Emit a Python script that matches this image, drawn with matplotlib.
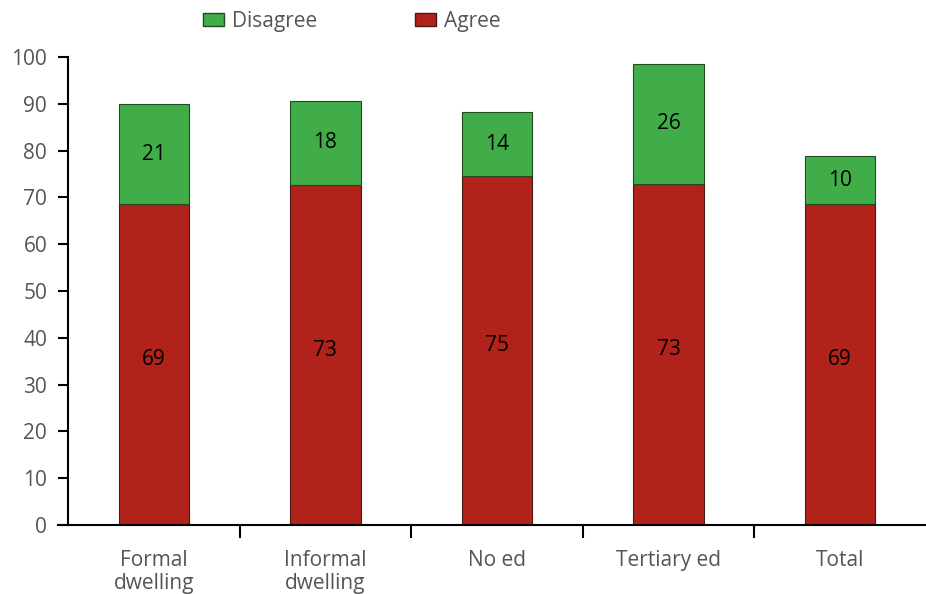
import matplotlib
matplotlib.use('Agg')
import matplotlib.pyplot as plt
from matplotlib.patches import Patch

categories = ['Formal\ndwelling', 'Informal\ndwelling', 'No ed', 'Tertiary ed', 'Total']
agree = [68.6, 72.6, 74.6, 72.9, 68.6]
disagree = [21.3, 18.1, 13.6, 25.6, 10.2]

green = '#41ad49'
red = '#b0221a'
grey = '#555555'

plt.rcParams['font.family'] = ['Open Sans', 'DejaVu Sans']

fig = plt.figure(figsize=(9.26, 5.94), dpi=100)
ax = fig.add_axes([68 / 926, 1 - 525 / 594, (926 - 68) / 926, (525 - 57) / 594])

x = list(range(len(categories)))
w = 0.41
ax.bar(x, agree, width=w, color=red, edgecolor='#4a1a16', linewidth=0.8)
ax.bar(x, disagree, width=w, bottom=agree, color=green, edgecolor='#1f4a22', linewidth=0.8)

for i in x:
    ax.text(i, agree[i] / 2 + 1, '%d' % round(agree[i]), ha='center', va='center',
            fontsize=15, color='black')
    ax.text(i, agree[i] + disagree[i] / 2, '%d' % round(disagree[i]), ha='center',
            va='center', fontsize=15, color='black')

ax.set_xlim(-0.5, 4.5)
ax.set_ylim(0, 100)
ax.set_yticks(range(0, 101, 10))
ax.tick_params(axis='y', length=7, width=1.5, direction='out', labelsize=15,
               labelcolor=grey, pad=8)

# category labels between boundary ticks
ax.set_xticks([i + 0.5 for i in x[:-1]])
ax.set_xticklabels([])
ax.tick_params(axis='x', length=9, width=1.5, direction='out')
for i, c in enumerate(categories):
    ax.text(i, -5.3, c, ha='center', va='top', fontsize=15, color=grey,
            linespacing=1.12)

for s in ['top', 'right']:
    ax.spines[s].set_visible(False)
ax.spines['left'].set_linewidth(1.5)
ax.spines['bottom'].set_linewidth(1.5)
ax.spines['bottom'].set_bounds(-0.5 - 10 / 171.6, 4.5)

handles = [Patch(facecolor=green, edgecolor='#1f4a22', label='Disagree'),
           Patch(facecolor=red, edgecolor='#4a1a16', label='Agree')]
fig.legend(handles=handles, loc='center', bbox_to_anchor=(352 / 926, 1 - 21 / 594),
           ncol=2, frameon=False, fontsize=15, labelcolor=grey,
           handlelength=1.0, handleheight=0.6, columnspacing=4.7, handletextpad=0.4)

fig.savefig('out.png', dpi=100)
